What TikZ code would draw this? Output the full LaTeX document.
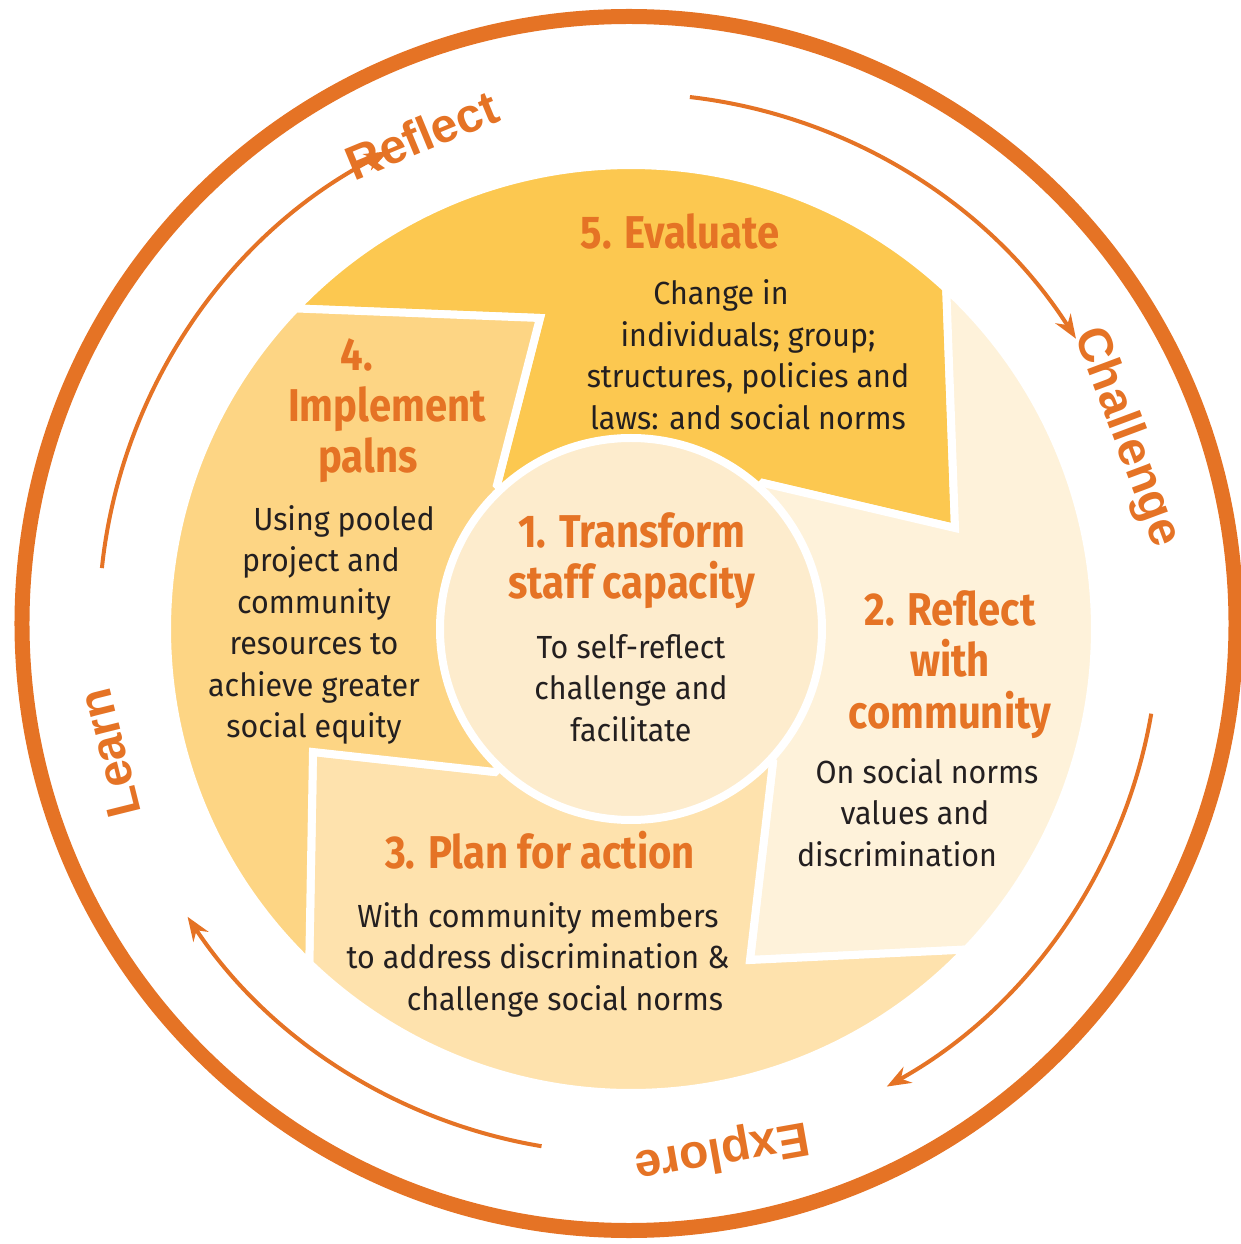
\documentclass[tikz,border=0pt]{standalone}
\usepackage{fontspec}
\setmainfont[FakeStretch=0.95]{Fira Sans}
\newfontfamily\titlefont[FakeStretch=0.87]{Fira Sans}
\newfontfamily\cyclefont{Liberation Sans}
\usetikzlibrary{arrows.meta}
\definecolor{cycleorange}{HTML}{E57325}
\definecolor{evalfill}{HTML}{FCC850}
\definecolor{implfill}{HTML}{FDD584}
\definecolor{planfill}{HTML}{FEE2AD}
\definecolor{reflfill}{HTML}{FEF2DA}
\definecolor{corefill}{HTML}{FDECCD}
\definecolor{bodytext}{HTML}{231F20}
\begin{document}
\begin{tikzpicture}[x=1pt,y=1pt,>={Stealth[length=24pt,width=18pt]},
	stagefill/.style={draw=white,line width=8pt,line join=miter},
	steptitle/.style={anchor=base,align=center,inner sep=0pt,text=cycleorange,font=\titlefont\bfseries\fontsize{46}{51}\selectfont},
	stepbody/.style={anchor=base,align=center,inner sep=0pt,text=bodytext,font=\fontsize{32}{41.5}\selectfont},
	cyclelabel/.style={text=cycleorange,inner sep=0pt,font=\cyclefont\bfseries\fontsize{48}{48}\selectfont},
	cyclearrow/.style={->,color=cycleorange,line width=4pt}]
	\useasboundingbox (-631,-615) rectangle (610,629);
	\coordinate (ring) at (-2,5.5);
	\draw[color=cycleorange,line width=15pt] (ring) circle(607pt);
	\draw[cyclearrow] ([shift={(83.4:530pt)}]ring) arc[start angle=83.4,end angle=32.5,radius=530pt];
	\draw[cyclearrow] ([shift={(-9.8:530pt)}]ring) arc[start angle=-9.8,end angle=-60.9,radius=530pt];
	\draw[cyclearrow] ([shift={(260.5:530pt)}]ring) arc[start angle=260.5,end angle=213.6,radius=530pt];
	\draw[cyclearrow] ([shift={(174:530pt)}]ring) arc[start angle=174,end angle=117,radius=530pt];
	\node[cyclelabel,rotate=22.5] (reflectlabel) at ([shift={(113:531pt)}]ring) {Reflect};
	\node[cyclelabel,rotate=-69.5] (challengelabel) at ([shift={(20.5:531pt)}]ring) {Challenge};
	\node[cyclelabel,rotate=-170] (explorelabel) at ([shift={(-80:535pt)}]ring) {Explore};
	\node[cyclelabel,rotate=104] (learnlabel) at ([shift={(194:535pt)}]ring) {Learn};
	\filldraw[stagefill,fill=evalfill] (136.3:464pt) -- (-91,311) -- (-134,144) -- (0,0) -- (132,146) -- (324,101) -- (47.2:464pt) arc[start angle=47.2,end angle=136.3,radius=464pt] -- cycle;
	\filldraw[stagefill,fill=reflfill] (47.2:464pt) -- (324,101) -- (132,146) -- (0,0) -- (142,-133) -- (119,-331) -- (-43.7:464pt) arc[start angle=-43.7,end angle=47.2,radius=464pt] -- cycle;
	\filldraw[stagefill,fill=planfill] (-43.7:464pt) -- (119,-331) -- (142,-133) -- (0,0) -- (-136,-143) -- (-318,-123) -- (226.1:464pt) arc[start angle=226.1,end angle=316.3,radius=464pt] -- cycle;
	\filldraw[stagefill,fill=implfill] (226.1:464pt) -- (-318,-123) -- (-136,-143) -- (0,0) -- (-134,144) -- (-91,311) -- (136.3:464pt) arc[start angle=136.3,end angle=226.1,radius=464pt] -- cycle;
	\draw[fill=corefill,draw=white,line width=8pt] (0,0) circle(191pt);
	\node[steptitle] (evaltitle) at (49,380) {5. Evaluate};
	\node[stepbody] (evalbody) at (117,199.5) {Change in\hspace*{54pt}\\ individuals; group;\\ structures, policies and\\ laws: and social norms};
	\node[steptitle] (impltitle) at (-244,156) {4.\hspace*{60pt}\\ Implement\\ palns\hspace*{38pt}};
	\node[stepbody] (implbody) at (-317,-108.5) {\hspace*{60pt}Using pooled\\ \hspace*{14pt}project and\\ community\\ resources to\\ achieve greater\\ social equity};
	\node[steptitle] (coretitle) at (1,30) {1. Transform\\ staff capacity};
	\node[stepbody] (corebody) at (0,-112) {To self-reflect\\ challenge and\\ facilitate};
	\node[steptitle] (refltitle) at (319,-99) {2. Reflect\\ with\\ community};
	\node[stepbody] (reflbody) at (284,-237) {\hspace*{24pt}On social norms\\ values and\\ discrimination\hspace*{36pt}};
	\node[steptitle] (plantitle) at (-91,-239) {3. Plan for action};
	\node[stepbody] (planbody) at (-93,-381) {With community members\\ to address discrimination \&\\ \hspace*{54pt}challenge social norms};
\end{tikzpicture}
\end{document}
